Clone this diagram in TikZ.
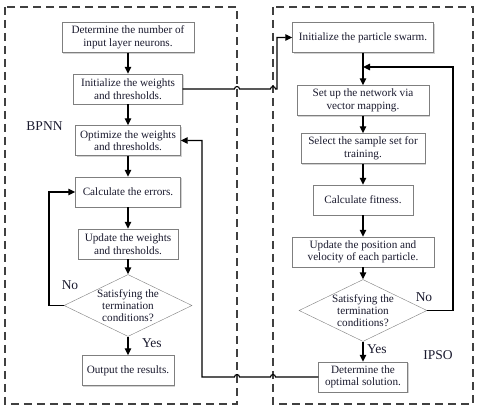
\documentclass[tikz,border=0pt]{standalone}
\usepackage{fontspec}
\setmainfont{Liberation Serif}
\usetikzlibrary{arrows.meta,shapes.geometric,shadows}
\definecolor{boxline}{HTML}{7F7F7F}
\definecolor{frameline}{HTML}{404040}
\definecolor{txt}{HTML}{1A1A2E}

\begin{document}
\begin{tikzpicture}[x=1pt,y=-1pt,
    every node/.style={text=txt},
    stepbox/.style={draw=boxline,fill=white,align=center,minimum height=30,inner sep=2pt,
      font=\fontsize{11.2}{12.5}\selectfont,drop shadow={shadow xshift=1.2pt,shadow yshift=-1.2pt,fill=gray!35,opacity=1}},
    decision/.style={diamond,draw=boxline,fill=white,align=center,inner sep=-8pt,
      minimum width=128,minimum height=55,font=\fontsize{11.2}{12}\selectfont},
    flow/.style={line width=1.4pt,-{Triangle[length=7pt,width=6.5pt]}},
    cross/.style={line width=1.1pt,-{Triangle[length=7pt,width=6.5pt]}},
    frame/.style={draw=frameline,line width=1.2pt,dash pattern=on 8pt off 5pt},
    tag/.style={font=\fontsize{13.5}{14}\selectfont}]
    \useasboundingbox (0,0) rectangle (480,411);
    % dashed frames
    \draw[frame] (5,7) rectangle (237,404);
    \draw[frame] (273,7) rectangle (473,404);
    \node[tag] (bpnn) at (44.5,126.5) {BPNN};
    \node[tag] (ipso) at (438,355) {IPSO};
    % BPNN column
    \node[stepbox,minimum width=132] (neurons) at (128,37.5) {Determine the number of\\input layer neurons.};
    \node[stepbox,minimum width=109] (initw) at (128,89) {Initialize the weights\\and thresholds.};
    \node[stepbox,minimum width=105] (optw) at (128,140.5) {Optimize the weights\\and thresholds.};
    \node[stepbox,minimum width=105] (errors) at (128,192) {Calculate the errors.};
    \node[stepbox,minimum width=100] (updw) at (128,244) {Update the weights\\and thresholds.};
    \node[decision] (condL) at (128,305.5) {Satisfying the\\termination\\conditions?};
    \node[stepbox,minimum width=92] (output) at (128,370.5) {Output the results.};
    % IPSO column
    \node[stepbox,minimum width=141] (swarm) at (363,37.5) {Initialize the particle swarm.};
    \node[stepbox,minimum width=132] (network) at (363,100.5) {Set up the network via\\vector mapping.};
    \node[stepbox,minimum width=124] (sample) at (363,148.5) {Select the sample set for\\training.};
    \node[stepbox,minimum width=100] (fitness) at (363,200) {Calculate fitness.};
    \node[stepbox,minimum width=142] (position) at (363,252) {Update the position and\\velocity of each particle.};
    \node[decision] (condR) at (363,310.5) {Satisfying the\\termination\\conditions?};
    \node[stepbox,minimum width=89] (optimal) at (363,377) {Determine the\\optimal solution.};
    % main flow
    \draw[flow] (neurons) -- (initw);
    \draw[flow] (initw) -- (optw);
    \draw[flow] (optw) -- (errors);
    \draw[flow] (errors) -- (updw);
    \draw[flow] (updw) -- (condL);
    \draw[flow] (condL) -- node[tag,right,pos=0.35,xshift=10pt] {Yes} (output);
    \draw[flow] (swarm) -- (network);
    \draw[flow] (network) -- (sample);
    \draw[flow] (sample) -- (fitness);
    \draw[flow] (fitness) -- (position);
    \draw[flow] (position) -- (condR);
    \draw[flow] (condR) -- node[tag,right,pos=0.35] {Yes} (optimal);
    % loops
    \coordinate (backL) at (49,192);
    \coordinate (backR) at (363,67);
    \draw[flow] (condL.west) -| (backL) -- (errors.west);
    \node[tag] (noL) at (70,285.5) {No};
    \draw[flow] (condR.east) -- (453,310.5) |- (backR);
    \node[tag] (noR) at (424,297) {No};
    % links between the two parts
    \draw[cross] (initw.east) -- (234.5,89) arc (180:360:2.5) -- (270.5,89) arc (180:360:2.5)
      -- (277,89) |- (swarm.west);
    \draw[cross] (optimal.west) -- (275.5,377) arc (360:180:2.5) -- (239.5,377) arc (360:180:2.5)
      -- (202,377) |- (optw.east);
\end{tikzpicture}
\end{document}
